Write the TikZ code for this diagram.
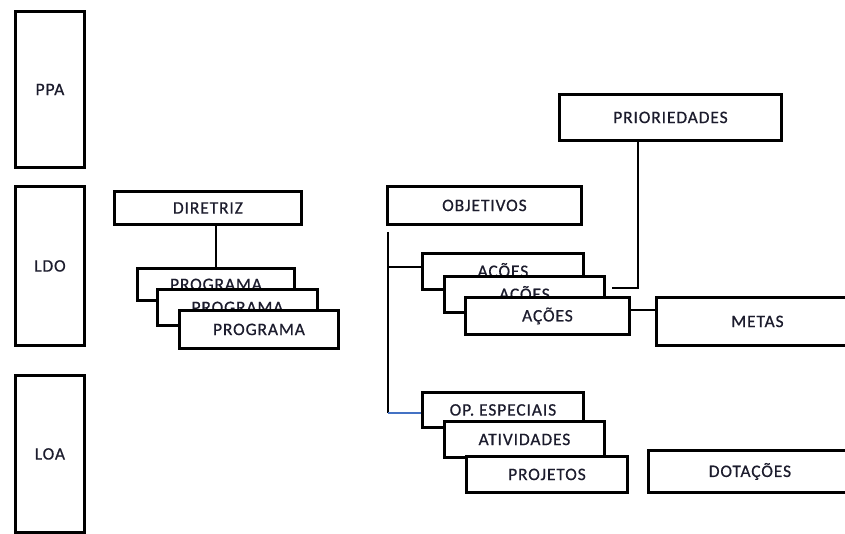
\documentclass[tikz,border=0pt]{standalone}
\usepackage{fontspec}
\setmainfont{Carlito}[LetterSpace=5,FakeBold=0.6]
\definecolor{txt}{RGB}{28,28,45}
\definecolor{lnblue}{RGB}{68,114,196}
\begin{document}
\begin{tikzpicture}[x=1pt,y=-1pt,
  box/.style={draw=black,line width=2.9pt,fill=white,inner sep=0pt,anchor=north west,
    text=txt,font=\fontsize{17.5}{18}\selectfont},
  conn/.style={draw=black,line width=1.4pt}]
\useasboundingbox (0,0) rectangle (845,534);
\newcommand\bx[6]{\node[box,minimum width=#4pt-#2pt,minimum height=#5pt-#3pt] (#1) at (#2,#3) {#6};}
% left column
\bx{ppa}{14}{10}{83}{166}{PPA}
\bx{ldo}{14}{185}{83}{344}{LDO}
\bx{loa}{14}{374}{83}{531}{LOA}
% diretriz & programas
\bx{dir}{113}{190}{300}{223}{DIRETRIZ}
\bx{pg1}{136}{267}{293}{299}{\raisebox{-4pt}{PROGRAMA}}
\bx{pg2}{156}{288}{316}{324}{\raisebox{-3pt}{PROGRAMA}}
\bx{pg3}{178}{309}{337}{347}{PROGRAMA}
% objetivos
\bx{obj}{386}{185}{580}{223}{OBJETIVOS}
\bx{pri}{558}{93}{780}{139}{PRIORIEDADES}
\bx{ac1}{421}{252}{582}{288}{\raisebox{-4pt}{AÇÕES}}
\bx{ac2}{443}{275}{603}{311}{\raisebox{-4pt}{AÇÕES}}
\bx{ac3}{464}{296}{628}{333}{AÇÕES}
\bx{met}{655}{296}{857}{344}{METAS}
\bx{op}{421}{391}{582}{426}{OP. ESPECIAIS}
\bx{ati}{443}{420}{603}{456}{ATIVIDADES}
\bx{pro}{465}{455}{626}{491}{PROJETOS}
\bx{dot}{647}{449}{850}{491}{DOTAÇÕES}
% connectors
\coordinate (objtop) at (388,232);
\coordinate (objbot) at (388,413);
\coordinate (a1j) at (388,267);
\coordinate (a2s) at (612,288);
\coordinate (a2c) at (638,288);
\draw[conn] (dir.south -| 216,0) -- (pg1.north -| 216,0);
\draw[conn] (objtop) -- (objbot);
\draw[conn] (a1j) -- (a1j -| ac1.west);
\draw[line width=1.4pt,draw=lnblue] (objbot) -- (objbot -| op.west);
\draw[conn] (a2s) -- (a2c) -- (a2c |- pri.south);
\draw[conn] (ac3.east |- 0,310) -- (met.west |- 0,310);
\end{tikzpicture}
\end{document}
